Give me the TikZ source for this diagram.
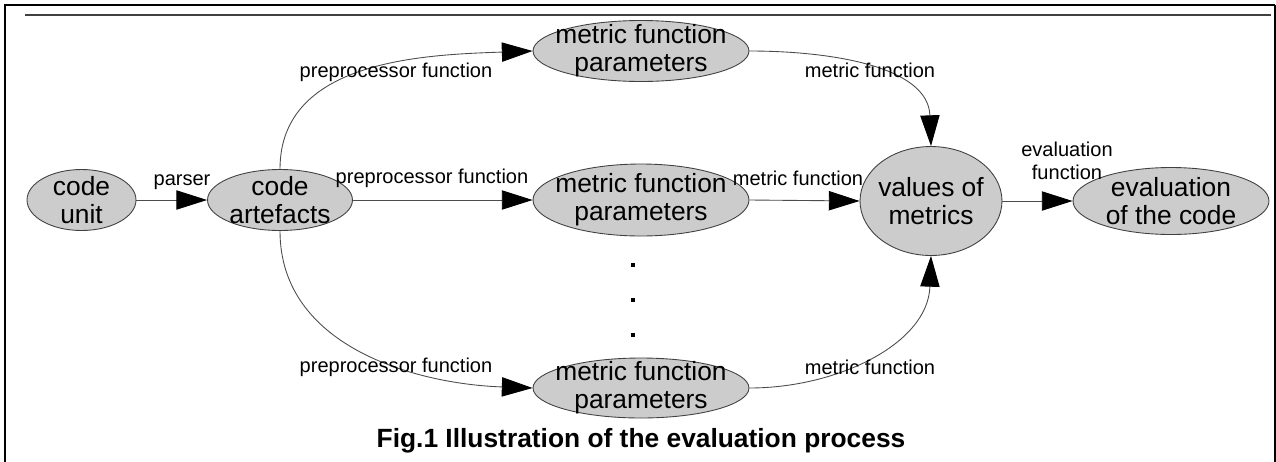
\documentclass[tikz,border=0pt]{standalone}
\usepackage{fontspec}
\setmainfont{Liberation Sans}
\usetikzlibrary{shapes.geometric,arrows.meta}
\tikzset{
  blob/.style={ellipse, draw=black!75, fill=black!20, line width=0.5pt,
    inner xsep=-30pt, inner ysep=-14pt, align=center,
    font=\fontsize{15}{16}\selectfont},
  lbl/.style={align=center, inner sep=0pt, font=\fontsize{11.4}{13}\selectfont},
  flow/.style={draw=black!70, line width=0.5pt,
    -{Triangle[length=17.5pt,width=11pt,color=black]}},
}

\begin{document}
\begin{tikzpicture}[x=0.02cm,y=0.02cm]
	%%%%% FRAME %%%%%
	\useasboundingbox (0,0) rectangle (1276,-461);
	\draw[line width=1.3pt] (5,-470) -- (5,-5) -- (1275,-5);
	\draw[line width=0.6pt] (1275,-5) -- (1275,-470);
	\draw[black!75, line width=0.7pt] (25,-15) -- (1271,-15);
	
	%%%%% STATES %%%%%
	\node[blob, minimum width=2.18cm, minimum height=1.22cm] (unit) at (81.5,-200) {code\\unit};
	\node[blob, minimum width=2.9cm, minimum height=1.22cm] (artefacts) at (280,-200) {code\\artefacts};
	
	\node[blob, minimum width=4.32cm, minimum height=1.22cm] (par1) at (641,-51) {metric function\\parameters};
	\node[blob, minimum width=4.32cm, minimum height=1.44cm] (par2) at (641,-200) {metric function\\parameters};
	\node[blob, minimum width=4.32cm, minimum height=1.2cm] (par3) at (641,-388) {metric function\\parameters};
	
	\node[blob, minimum width=2.84cm, minimum height=2.18cm] (values) at (931,-201) {values of\\metrics};
	\node[blob, minimum width=3.92cm, minimum height=1.34cm] (evaluation) at (1171,-201) {evaluation\\of the code};
	
	% the dots between the parameter sets
	\foreach \y in {265,300,335}
		\fill (631,-\y+2) rectangle ++(4,-4);
	
	%%%%% FLOWS %%%%%
	\draw[flow] (unit) -- (artefacts);
	\draw[flow] (artefacts.north) to[out=90,in=182] (par1.west);
	\draw[flow] (artefacts.east) -- (par2.west);
	\draw[flow] (artefacts.south) to[out=-90,in=178] (par3.west);
	\draw[flow] (par1.east) to[out=0,in=92] (values.north);
	\draw[flow] (par2.east) -- (values.west);
	\draw[flow] (par3.east) to[out=0,in=-92] (values.south);
	\draw[flow] (values) -- (evaluation);
	
	%%%%% LABELS %%%%%
	\node[lbl] (parser) at (182,-182) {parser};
	\node[lbl] (pre1) at (396,-72) {preprocessor function};
	\node[lbl] (pre2) at (432,-178) {preprocessor function};
	\node[lbl] (pre3) at (396,-367) {preprocessor function};
	\node[lbl] (met1) at (870,-70) {metric function};
	\node[lbl] (met2) at (798,-178) {metric function};
	\node[lbl] (met3) at (870,-367) {metric function};
	\node[lbl] (evalfn) at (1067,-161) {evaluation\\function};
	
	\node[font=\bfseries\fontsize{15}{18}\selectfont] (caption) at (641,-441) {Fig.1 Illustration of the evaluation process};
\end{tikzpicture}
\end{document}
